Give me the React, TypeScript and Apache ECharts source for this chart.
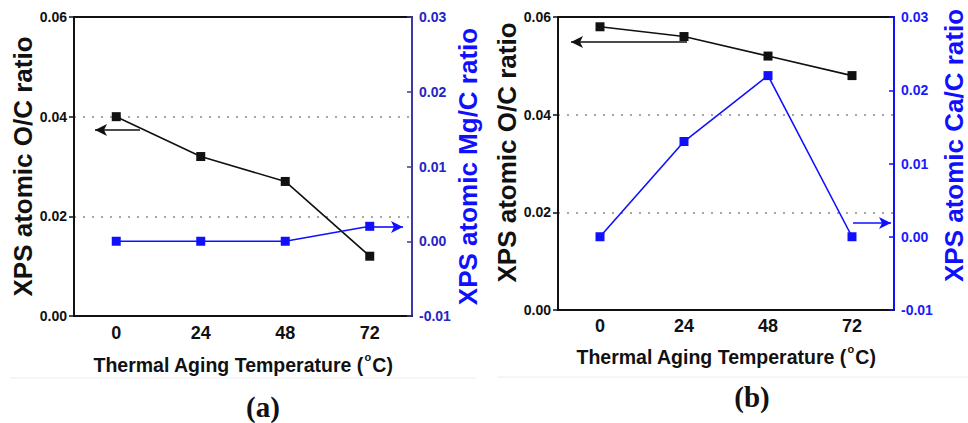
import React, { useEffect, useRef } from "react";
import * as echarts from "echarts";

const categories = ["0", "24", "48", "72"];
const ocRatioA = [0.04, 0.032, 0.027, 0.012];
const mgRatioA = [0, 0, 0, 0.002];
const ocRatioB = [0.058, 0.056, 0.052, 0.048];
const caRatioB = [0, 0.013, 0.022, 0];
const leftTitle = "XPS atomic O/C ratio";
const rightTitleA = "XPS atomic Mg/C ratio";
const rightTitleB = "XPS atomic Ca/C ratio";
const xTitle = "{t|Thermal Aging Temperature (}{s|o}{t|C)}";
const panelLabels = ["(a)", "(b)"];

const FONT = "'Liberation Sans', Arial, sans-serif";
const BLUE = "#1010ff";

export default function App() {
  const ref = useRef<HTMLDivElement>(null);
  useEffect(() => {
    if (!ref.current) return;
    const chart = echarts.init(ref.current, null, { renderer: "svg" });

    const grids = [
      { left: 74, top: 17, width: 338, height: 299 },
      { left: 558, top: 17, width: 344, height: 293 },
    ];

    const panels = [
      {
        oc: ocRatioA,
        sec: mgRatioA,
        rightTitle: rightTitleA,
        rightAxisColor: "#3b3ba8",
        rightLabelColor: "#2424c8",
        xNameGap: 35,
        xLabelMargin: 8,
        leftNameGap: 34,
        rightNameGap: 38,
        leftPad: [0, 0, 0, 0],
        rightPad: [0, 0, 0, 0],
        blackArrow: [[{ x: 140, y: 130 }, { x: 95, y: 130 }]],
        blueArrow: [[{ x: 372, y: 227 }, { x: 403, y: 227 }]],
      },
      {
        oc: ocRatioB,
        sec: caRatioB,
        rightTitle: rightTitleB,
        rightAxisColor: BLUE,
        rightLabelColor: "#1a1aff",
        xNameGap: 33,
        xLabelMargin: 7,
        leftNameGap: 34,
        rightNameGap: 47,
        leftPad: [0, 0, 0, 22],
        rightPad: [0, 0, 0, 36],
        blackArrow: [[{ x: 687, y: 42 }, { x: 571, y: 42 }]],
        blueArrow: [[{ x: 853, y: 223 }, { x: 891, y: 223 }]],
      },
    ];

    const xAxes: any[] = [];
    const yAxes: any[] = [];
    const series: any[] = [];

    panels.forEach((p, i) => {
      xAxes.push({
        type: "category",
        gridIndex: i,
        data: categories,
        boundaryGap: true,
        axisLine: { lineStyle: { color: "#111", width: 2 } },
        axisTick: { inside: true, length: 5, alignWithLabel: true, lineStyle: { color: "#111", width: 1.5 } },
        axisLabel: { color: "#111", fontFamily: FONT, fontWeight: "bold", fontSize: 18, margin: p.xLabelMargin },
        name: xTitle,
        nameLocation: "middle",
        nameGap: p.xNameGap,
        nameTextStyle: {
          rich: {
            t: { fontFamily: FONT, fontWeight: "bold", fontSize: 19.5, color: "#111", lineHeight: 24, verticalAlign: "bottom" },
            s: { fontFamily: FONT, fontWeight: "bold", fontSize: 11, color: "#111", lineHeight: 24, verticalAlign: "top", padding: [0, 1, 0, 1] },
          },
        },
        splitLine: { show: false },
      });
      yAxes.push({
        type: "value",
        gridIndex: i,
        position: "left",
        min: 0,
        max: 0.06,
        interval: 0.02,
        axisLine: { show: true, lineStyle: { color: "#111", width: 2 } },
        axisTick: { show: true, length: 5, lineStyle: { color: "#111", width: 1.5 } },
        axisLabel: {
          color: "#111",
          fontFamily: FONT,
          fontWeight: "bold",
          fontSize: 14,
          margin: 7,
          formatter: (v: number) => v.toFixed(2),
        },
        splitLine: {
          show: true,
          showMinLine: false,
          showMaxLine: false,
          lineStyle: { color: "#8a8a8a", width: 1.6, type: [2, 7] },
        },
        name: leftTitle,
        nameLocation: "middle",
        nameRotate: 90,
        nameGap: p.leftNameGap,
        nameTextStyle: { fontFamily: FONT, fontWeight: "bold", fontSize: 26, color: "#111", padding: p.leftPad },
      });
      yAxes.push({
        type: "value",
        gridIndex: i,
        position: "right",
        min: -0.01,
        max: 0.03,
        interval: 0.01,
        axisLine: { show: true, lineStyle: { color: p.rightAxisColor, width: 2 } },
        axisTick: { show: true, inside: true, length: 5, lineStyle: { color: p.rightAxisColor, width: 1.5 } },
        axisLabel: {
          color: p.rightLabelColor,
          fontFamily: FONT,
          fontWeight: "bold",
          fontSize: 14,
          margin: 7,
          formatter: (v: number) => v.toFixed(2),
        },
        splitLine: { show: false },
        name: p.rightTitle,
        nameLocation: "middle",
        nameRotate: 90,
        nameGap: p.rightNameGap,
        nameTextStyle: { fontFamily: FONT, fontWeight: "bold", fontSize: 26, color: BLUE, padding: p.rightPad },
      });

      series.push({
        type: "line",
        xAxisIndex: i,
        yAxisIndex: 2 * i,
        data: p.oc,
        symbol: "rect",
        symbolSize: 9,
        itemStyle: { color: "#111" },
        lineStyle: { color: "#111", width: 1.6 },
        z: 3,
        markLine: {
          silent: true,
          symbol: ["none", "arrow"],
          symbolSize: [9, 12],
          label: { show: false },
          lineStyle: { color: "#111", width: 1.6, type: "solid" },
          data: p.blackArrow,
        },
      });
      series.push({
        type: "line",
        xAxisIndex: i,
        yAxisIndex: 2 * i + 1,
        data: p.sec,
        symbol: "rect",
        symbolSize: 9,
        itemStyle: { color: BLUE },
        lineStyle: { color: BLUE, width: 1.6 },
        z: 3,
        markLine: {
          silent: true,
          symbol: ["none", "arrow"],
          symbolSize: [9, 12],
          label: { show: false },
          lineStyle: { color: BLUE, width: 1.6, type: "solid" },
          data: p.blueArrow,
        },
      });
    });

    chart.setOption({
      animation: false,
      backgroundColor: "#ffffff",
      grid: grids.map((g) => ({
        ...g,
        show: true,
        borderColor: "#111",
        borderWidth: 2,
        backgroundColor: "transparent",
        containLabel: false,
      })),
      xAxis: xAxes,
      yAxis: yAxes,
      series,
      graphic: [
        { type: "line", shape: { x1: 10, y1: 378, x2: 476, y2: 378 }, style: { stroke: "#ececec", lineWidth: 1 } },
        { type: "line", shape: { x1: 497, y1: 377, x2: 968, y2: 377 }, style: { stroke: "#ececec", lineWidth: 1 } },
        {
          type: "text",
          x: 263,
          y: 407,
          style: {
            text: panelLabels[0],
            font: "bold 29px 'Liberation Serif', 'Times New Roman', serif",
            fill: "#111",
            textAlign: "center",
            textVerticalAlign: "middle",
          },
        },
        {
          type: "text",
          x: 752,
          y: 397,
          style: {
            text: panelLabels[1],
            font: "bold 29px 'Liberation Serif', 'Times New Roman', serif",
            fill: "#111",
            textAlign: "center",
            textVerticalAlign: "middle",
          },
        },
      ],
    });

    return () => chart.dispose();
  }, []);

  return (
    <div
      ref={ref}
      style={{ position: "absolute", left: 0, top: 0, width: 968, height: 423, background: "#fff" }}
    />
  );
}
